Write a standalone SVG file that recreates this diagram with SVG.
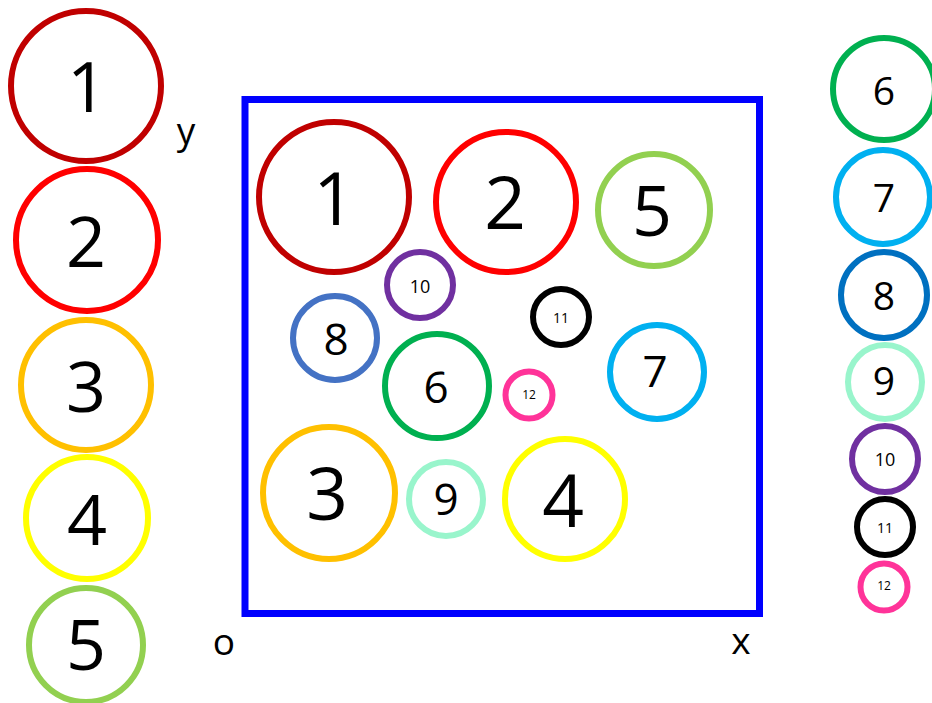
<svg xmlns="http://www.w3.org/2000/svg" width="932" height="703" viewBox="0 0 932 703">
<style>
circle{fill:none;stroke-width:6}
text{font-family:"Open Sans","Liberation Sans",sans-serif;fill:#000;text-anchor:middle}
.xl{font-size:70px}.xxl{font-size:73px}.m{font-size:44px}.r{font-size:39px}.s{font-size:18px}.t{font-size:14px}.ax{font-size:37px}
.c1{stroke:#C00000}.c2{stroke:#FF0000}.c3{stroke:#FFC000}.c4{stroke:#FFFF00}.c5{stroke:#92D050}
.c6{stroke:#00B050}.c7{stroke:#00B0F0}.c8{stroke:#4472C4}.c8b{stroke:#0070C0}.c9{stroke:#99F5CC}
.c10{stroke:#7030A0}.c11{stroke:#000}.c12{stroke:#FF3399}
</style>
<rect x="245" y="99.5" width="514.5" height="514" fill="none" stroke="#0000FF" stroke-width="7"/>
<g id="axes">
<text class="ax" x="186" y="144">y</text>
<text class="ax" x="224" y="655">o</text>
<text class="ax" x="741" y="654">x</text>
</g>
<g id="left">
<g id="L1"><circle class="c1" cx="86" cy="86" r="75"/><text class="xl" x="87" y="112">1</text></g>
<g id="L2"><circle class="c2" cx="87" cy="240" r="71"/><text class="xl" x="86" y="267">2</text></g>
<g id="L3"><circle class="c3" cx="86" cy="385" r="65"/><text class="xl" x="86" y="412">3</text></g>
<g id="L4"><circle class="c4" cx="87" cy="518" r="61"/><text class="xl" x="87" y="545">4</text></g>
<g id="L5"><circle class="c5" cx="86" cy="645" r="57"/><text class="xl" x="86" y="670">5</text></g>
</g>
<g id="inner">
<g id="I1"><circle class="c1" cx="334" cy="197" r="75"/><text class="xxl" x="334" y="225">1</text></g>
<g id="I2"><circle class="c2" cx="506" cy="202" r="70"/><text class="xxl" x="505" y="229">2</text></g>
<g id="I5"><circle class="c5" cx="654" cy="210" r="56"/><text class="xl" x="652" y="236">5</text></g>
<g id="I10"><circle class="c10" cx="420" cy="285" r="33"/><text class="s" x="420" y="293">10</text></g>
<g id="I11"><circle class="c11" cx="561" cy="317" r="28"/><text class="t" x="561" y="323">11</text></g>
<g id="I8"><circle class="c8" cx="335" cy="338" r="42"/><text class="m" x="336" y="355">8</text></g>
<g id="I6"><circle class="c6" cx="437" cy="386" r="52"/><text class="m" x="436" y="403">6</text></g>
<g id="I12"><circle class="c12" cx="529" cy="395" r="23.5" stroke-width="5"/><text class="t" x="529" y="399" style="font-size:12px">12</text></g>
<g id="I7"><circle class="c7" cx="657" cy="372" r="47"/><text class="m" x="655" y="387">7</text></g>
<g id="I3"><circle class="c3" cx="329" cy="493" r="66"/><text class="xxl" x="327" y="520">3</text></g>
<g id="I9"><circle class="c9" cx="446" cy="499" r="37"/><text class="m" x="446" y="515">9</text></g>
<g id="I4"><circle class="c4" cx="565" cy="499" r="60"/><text class="xxl" x="563" y="527">4</text></g>
</g>
<g id="right">
<g id="R6"><circle class="c6" cx="884" cy="89" r="51"/><text class="r" x="884" y="105">6</text></g>
<g id="R7"><circle class="c7" cx="883" cy="197" r="47"/><text class="r" x="884" y="212">7</text></g>
<g id="R8"><circle class="c8b" cx="884" cy="295" r="43"/><text class="r" x="884" y="310">8</text></g>
<g id="R9"><circle class="c9" cx="885" cy="382" r="37"/><text class="r" x="884" y="395">9</text></g>
<g id="R10"><circle class="c10" cx="885" cy="459" r="33"/><text class="s" x="885" y="466">10</text></g>
<g id="R11"><circle class="c11" cx="885" cy="527" r="28"/><text class="t" x="885" y="533">11</text></g>
<g id="R12"><circle class="c12" cx="884" cy="587" r="23.5" stroke-width="5"/><text class="t" x="884" y="590" style="font-size:12px">12</text></g>
</g>
</svg>
